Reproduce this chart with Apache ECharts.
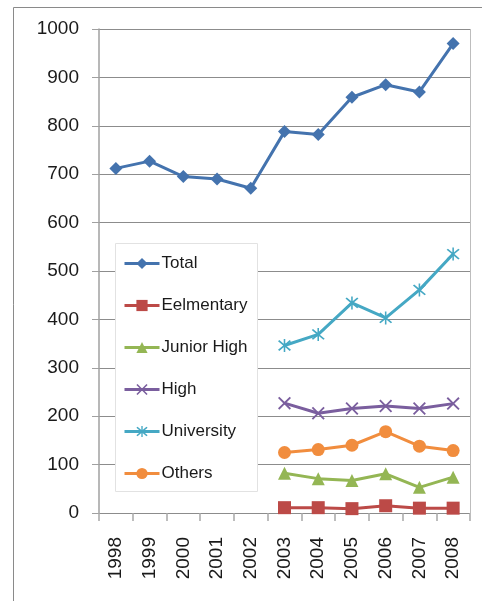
<!DOCTYPE html>
<html><head><meta charset="utf-8">
<script src="https://cdn.jsdelivr.net/npm/echarts@6/dist/echarts.min.js"></script>
<style>html,body{margin:0;padding:0;background:#fff}#c{width:482px;height:601px}</style>
</head><body><div id="c"></div>
<script>
var categories = ['1998','1999','2000','2001','2002','2003','2004','2005','2006','2007','2008'];
var total      = [712, 727, 695, 690, 671, 788, 782, 859, 885, 870, 970];
var elementary = [null, null, null, null, null, 11, 11, 9, 15, 10, 10];
var juniorHigh = [null, null, null, null, null, 82, 71, 67, 81, 53, 74];
var high       = [null, null, null, null, null, 227, 206, 216, 221, 216, 226];
var university = [null, null, null, null, null, 346, 369, 434, 403, 461, 535];
var others     = [null, null, null, null, null, 125, 131, 140, 168, 138, 129];
var yTicks = [0, 100, 200, 300, 400, 500, 600, 700, 800, 900, 1000];

var FONT = 'Liberation Sans';
var X_PATH = 'path://M1,0 L5,4 L9,0 L10,1 L6,5 L10,9 L9,10 L5,6 L1,10 L0,9 L4,5 L0,1 Z';
var STAR_PATH = 'path://M1,0 L5,4 L9,0 L10,1 L6,5 L10,9 L9,10 L5,6 L1,10 L0,9 L4,5 L0,1 Z M4.4,-1 L5.6,-1 L5.6,11 L4.4,11 Z';

function mk(name, data, color, symbol, size) {
  return {
    name: name, type: 'line', data: data, symbol: symbol, symbolSize: size,
    connectNulls: false, z: 3,
    lineStyle: {color: color, width: 3},
    itemStyle: {color: color},
    emphasis: {disabled: true}
  };
}

var chart = echarts.init(document.getElementById('c'), null, {renderer: 'canvas'});
chart.setOption({
  animation: false,
  backgroundColor: '#fff',
  textStyle: {fontFamily: FONT},
  graphic: [
    {type: 'rect', z: 0, shape: {x: 13.5, y: 7.5, width: 520, height: 620}, style: {fill: 'none', stroke: '#8a8a8a', lineWidth: 1}},
    {type: 'line', z: 1, shape: {x1: 470.5, y1: 29, x2: 470.5, y2: 513}, style: {stroke: '#bdbdbd', lineWidth: 1}},
    {type: 'rect', z: 5, shape: {x: 115.5, y: 243.5, width: 142, height: 248}, style: {fill: '#fff', stroke: '#e2e2e2', lineWidth: 1}}
  ],
  grid: {left: 99, right: 12, top: 29, bottom: 88, containLabel: false},
  xAxis: {
    type: 'category', data: categories, boundaryGap: true,
    axisLine: {show: false},
    axisTick: {show: true, length: 8, lineStyle: {color: '#a8a8a8', width: 1.5}},
    axisLabel: {rotate: 90, margin: 24, fontSize: 19, color: '#1a1a1a', fontFamily: FONT}
  },
  yAxis: {
    type: 'value', min: yTicks[0], max: yTicks[yTicks.length - 1], interval: 100,
    axisLine: {show: true, lineStyle: {color: '#a0a0a0', width: 1.5}},
    axisTick: {show: true, length: 7, lineStyle: {color: '#a0a0a0'}},
    splitLine: {show: true, lineStyle: {color: '#8c8c8c', width: 1}},
    axisLabel: {margin: 20, fontSize: 19, color: '#1a1a1a', fontFamily: FONT,
      formatter: function (v) { return String(v); }}
  },
  legend: {
    orient: 'vertical', left: 115, top: 242, z: 10,
    padding: [13, 8, 13, 8],
    itemWidth: 35, itemHeight: 14, itemGap: 25,
    lineStyle: {width: 3},
    textStyle: {fontSize: 17, color: '#1a1a1a', fontFamily: FONT, padding: [0, 0, 0, -3]},
    data: ['Total', 'Eelmentary', 'Junior High', 'High', 'University', 'Others']
  },
  series: [
    mk('Total', total, '#4473AE', 'diamond', 13),
    mk('Eelmentary', elementary, '#BC4A47', 'rect', 13),
    mk('Junior High', juniorHigh, '#94B654', 'triangle', 13),
    mk('High', high, '#7A5E9E', X_PATH, 13),
    mk('University', university, '#45A8C4', STAR_PATH, 13),
    mk('Others', others, '#F18D3E', 'circle', 13)
  ]
});
</script></body></html>
